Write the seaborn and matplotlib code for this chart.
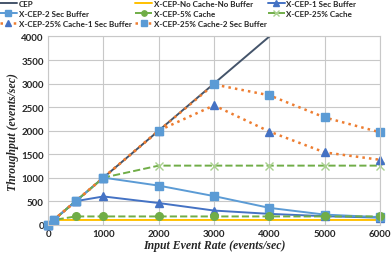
import numpy as np
import pandas as pd
import matplotlib
matplotlib.use("Agg")
import matplotlib.pyplot as plt
import seaborn as sns

# ─────────────────────────────────────────────
# Data
# ─────────────────────────────────────────────
rate = [0, 100, 500, 1000, 2000, 3000, 4000, 5000, 6000]

cep           = [0, 100, 500, 1000, 2000, 3000, 4000, 5000, 6000]
no_cache      = [0, 100, 100, 100, 100, 100, 100, 100, 100]
buf_1s        = [0, 100, 500, 600, 460, 300, 230, 180, 150]
buf_2s        = [0, 100, 500, 1000, 830, 607, 357, 214, 160]
cache_5       = [0, 100, 175, 175, 175, 175, 175, 175, 175]
cache_25      = [0, 100, 500, 1000, 1255, 1255, 1255, 1255, 1255]
cache_25_1s   = [0, 100, 500, 1000, 2000, 2536, 1979, 1536, 1379]
cache_25_2s   = [0, 100, 500, 1000, 2000, 2980, 2750, 2279, 1964]

labels = [
    "CEP",
    "X-CEP-No Cache-No Buffer",
    "X-CEP-1 Sec Buffer",
    "X-CEP-2 Sec Buffer",
    "X-CEP-5% Cache",
    "X-CEP-25% Cache",
    "X-CEP-25% Cache-1 Sec Buffer",
    "X-CEP-25% Cache-2 Sec Buffer",
]
series = [cep, no_cache, buf_1s, buf_2s, cache_5, cache_25, cache_25_1s, cache_25_2s]

# line colour, linestyle, marker, marker colour
styles = [
    ("#44546A", "-",  None, None),
    ("#FFC000", "-",  None, None),
    ("#4472C4", "-",  "^",  "#4472C4"),
    ("#5B9BD5", "-",  "s",  "#5B9BD5"),
    ("#70AD47", "--", "o",  "#70AD47"),
    ("#70AD47", "--", "x",  "#A9D18E"),
    ("#ED7D31", ":",  "^",  "#4472C4"),
    ("#ED7D31", ":",  "s",  "#5B9BD5"),
]

sns.set_style("white")
plt.rcParams["font.family"] = ["Lato", "DejaVu Sans"]

fig = plt.figure(figsize=(3.91, 2.55), dpi=100)
ax = fig.add_axes([0.123, 0.115, 0.849, 0.738])

handles = []
for i, (lab, ys, (col, ls, mk, mcol)) in enumerate(zip(labels, series, styles)):
    df = pd.DataFrame({"rate": rate, "tput": ys})
    sns.lineplot(data=df, x="rate", y="tput", ax=ax, color=col, linestyle=ls,
                 linewidth=1.4 if ls != ":" else 1.8, marker=mk,
                 markersize=5.5, markerfacecolor=mcol, markeredgecolor=mcol,
                 markeredgewidth=1.0, label=lab, legend=False)
    line = ax.lines[-1]
    if i > 0:
        line.set_clip_on(False)
    handles.append(line)

ax.set_xlim(0, 6000)
ax.set_ylim(0, 4000)
ax.set_xticks(range(0, 6001, 1000))
ax.set_yticks(range(0, 4001, 500))
ax.grid(True, color="#c8c8c8", linewidth=0.8)
ax.set_axisbelow(True)
for s in ax.spines.values():
    s.set_color("#c8c8c8")
    s.set_linewidth(0.8)
ax.tick_params(length=0, labelsize=7, pad=3)
for t in ax.get_xticklabels() + ax.get_yticklabels():
    t.set_fontweight("bold")

ax.set_xlabel("Input Event Rate (events/sec)", family="Liberation Serif",
              fontsize=8.5, fontweight="bold", style="italic", labelpad=1)
ax.set_ylabel("Throughput (events/sec)", family="Liberation Serif",
              fontsize=8.5, fontweight="bold", style="italic", labelpad=2)

# three legend columns placed where the reference has them
columns = [[0, 3, 6], [1, 4, 7], [2, 5]]
col_x = [0.0, 0.346, 0.685]
for idx, x0 in zip(columns, col_x):
    leg = fig.legend([handles[i] for i in idx], [labels[i] for i in idx],
                     loc="upper left", bbox_to_anchor=(x0, 0.995),
                     frameon=False, fontsize=5.8, handlelength=2.1,
                     handletextpad=0.2, labelspacing=0.35, markerscale=0.7,
                     borderaxespad=0.0, borderpad=0.0)
    for t in leg.get_texts():
        t.set_fontweight("bold")

fig.savefig("out.png", dpi=100)
